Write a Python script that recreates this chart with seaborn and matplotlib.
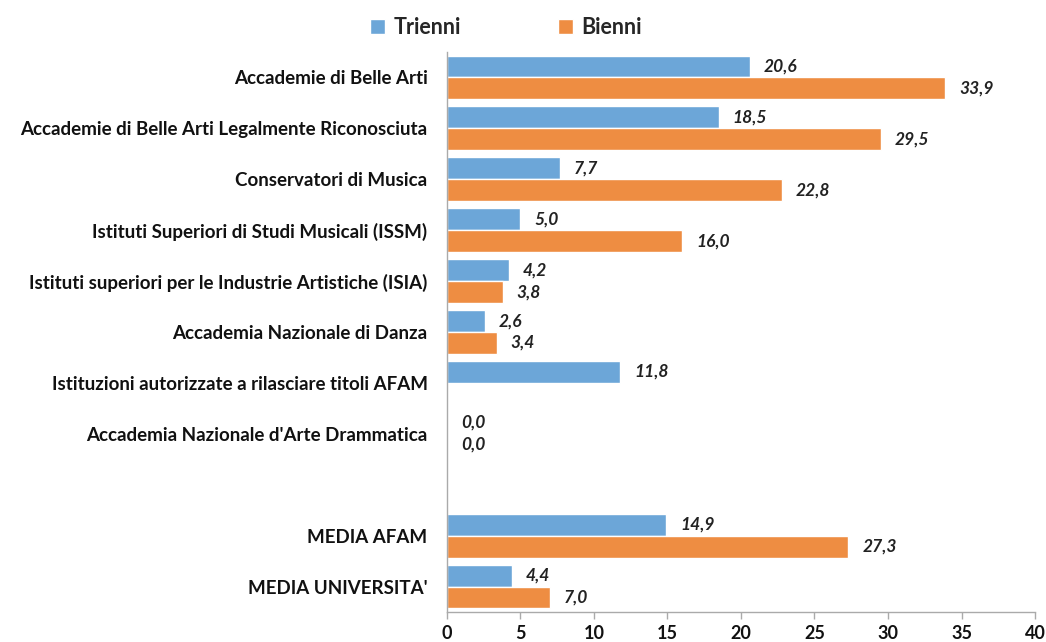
import numpy as np
import pandas as pd
import matplotlib
matplotlib.use("Agg")
import matplotlib.pyplot as plt
import seaborn as sns

# data
categories = [
    "Accademie di Belle Arti",
    "Accademie di Belle Arti Legalmente Riconosciuta",
    "Conservatori di Musica",
    "Istituti Superiori di Studi Musicali (ISSM)",
    "Istituti superiori per le Industrie Artistiche (ISIA)",
    "Accademia Nazionale di Danza",
    "Istituzioni autorizzate a rilasciare titoli AFAM",
    "Accademia Nazionale d'Arte Drammatica",
    " ",
    "MEDIA AFAM",
    "MEDIA UNIVERSITA'",
]
trienni = [20.6, 18.5, 7.7, 5.0, 4.2, 2.6, 11.8, 0.0, np.nan, 14.9, 4.4]
bienni = [33.9, 29.5, 22.8, 16.0, 3.8, 3.4, np.nan, 0.0, np.nan, 27.3, 7.0]
series = ["Trienni", "Bienni"]
colors = ["#6CA6D8", "#EE8D42"]

df = pd.DataFrame({"categoria": categories, "Trienni": trienni, "Bienni": bienni})
df = df.melt(id_vars="categoria", var_name="tipo", value_name="valore")

sns.set_theme(style="white")
plt.rcParams["font.family"] = ["Lato", "DejaVu Sans"]
plt.rcParams["font.weight"] = "bold"

fig = plt.figure(figsize=(10.46, 6.42), dpi=100)
ax = fig.add_axes([0.4273, 0.0467, 0.5622, 0.8723])

sns.barplot(data=df, y="categoria", x="valore", hue="tipo", order=categories,
            hue_order=series, palette=colors, orient="h", width=0.86,
            saturation=1, ax=ax, legend=True)

for cont in ax.containers:
    labels = [f"{v:.1f}".replace(".", ",") for v in cont.datavalues]
    ax.bar_label(cont, labels=labels, padding=10, fontsize=12.5,
                 fontweight="bold", fontstyle="italic", color="#222222")

ax.set_xlim(0, 40)
ax.set_xticks(range(0, 41, 5))
ax.set_ylim(len(categories) - 0.5, -0.5)
ax.set_yticks(range(len(categories)))
ax.set_yticklabels(categories, fontsize=13.5, fontweight="bold", color="#111111")
ax.set_yticks(np.arange(-0.5, len(categories), 1), minor=True)
ax.tick_params(axis="y", which="major", length=0, pad=14)
ax.tick_params(axis="y", which="minor", length=6, color="#aaaaaa", width=1)
ax.tick_params(axis="x", length=5, color="#aaaaaa", width=1, labelsize=13,
               labelcolor="#111111", pad=4, direction="out", bottom=True)
ax.set_xlabel("")
ax.set_ylabel("")
for s in ["top", "right"]:
    ax.spines[s].set_visible(False)
for s in ["left", "bottom"]:
    ax.spines[s].set_color("#aaaaaa")
    ax.spines[s].set_linewidth(1)

ax.legend(loc="lower center", bbox_to_anchor=(0.1, 0.99), ncol=2, frameon=False,
          handlelength=0.7, handleheight=0.7, columnspacing=4.5, handletextpad=0.4,
          prop={"size": 15.5, "weight": "bold"})

fig.savefig("out.png", dpi=100)
